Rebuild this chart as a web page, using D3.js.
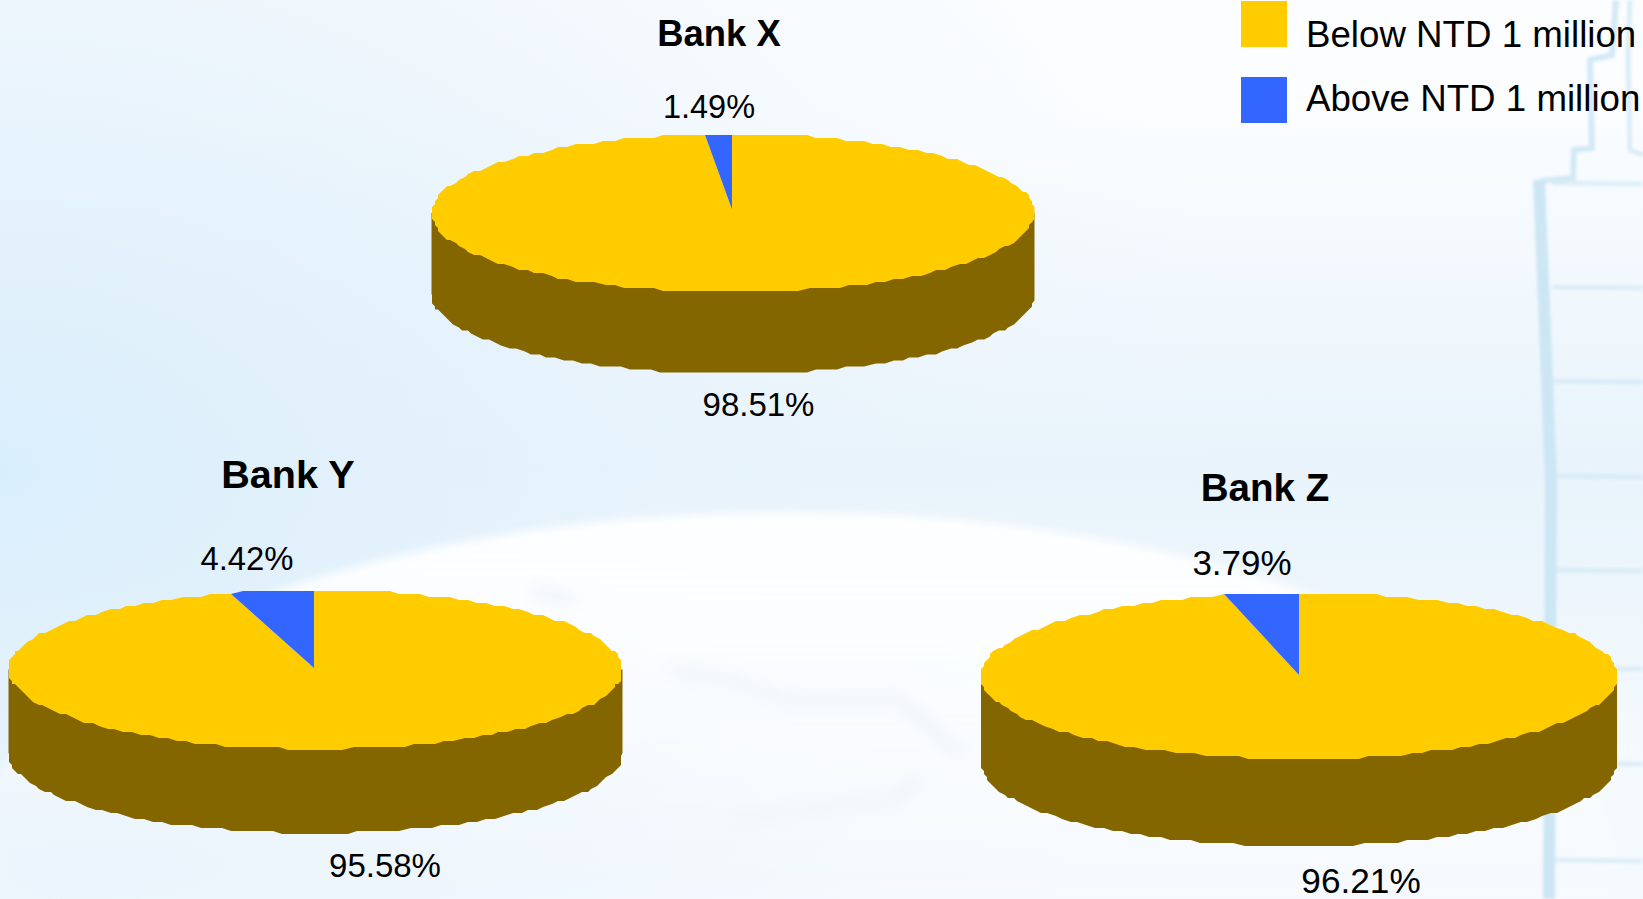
<!DOCTYPE html>
<html>
<head>
<meta charset="utf-8">
<script src="https://cdn.jsdelivr.net/npm/d3@7"></script>
<style>
html, body { margin: 0; padding: 0; background: #fbfdff; overflow: hidden; }
svg { display: block; font-family: "Liberation Sans", Arial, sans-serif; fill: #000; }
</style>
</head>
<body>
<svg id="chart" width="1643" height="899"></svg>
<script>
// Deposit split per bank, in percent
const banks = ["Bank X", "Bank Y", "Bank Z"];
const belowMillion = [98.51, 95.58, 96.21];
const aboveMillion = [1.49, 4.42, 3.79];
const seriesNames = ["Below NTD 1 million", "Above NTD 1 million"];
const seriesColors = ["#ffcc00", "#3366ff"];
const sideColor = ["#836600"];

// Placement of each disc and its captions; hub is where the slices meet
const discs = [
  { cx: 733, cy: 213, rx: 301.5, ry: 79, depth: 81.5, hubX: 732, hubY: 209.5 },
  { cx: 315.5, cy: 669.5, rx: 307, ry: 79.5, depth: 84, hubX: 314, hubY: 668 },
  { cx: 1299, cy: 676, rx: 318, ry: 83, depth: 87, hubX: 1299, hubY: 675 }
];
const titleLayout = [
  { x: 719, y: 46, size: 36.4 },
  { x: 288, y: 488, size: 39.6 },
  { x: 1265, y: 501, size: 38.6 }
];
const aboveLabelLayout = [
  { x: 709, y: 118, size: 32.5 },
  { x: 247, y: 570, size: 32.8 },
  { x: 1242, y: 575, size: 35 }
];
const belowLabelLayout = [
  { x: 758.5, y: 415.5, size: 33 },
  { x: 385, y: 876.5, size: 33 },
  { x: 1361, y: 892.5, size: 35.2 }
];

const svg = d3.select("#chart");
const defs = svg.append("defs");

// Soft wash behind the chart
const wash = defs.append("radialGradient").attr("id", "wash")
  .attr("gradientUnits", "userSpaceOnUse")
  .attr("cx", 0).attr("cy", 0).attr("r", 1)
  .attr("gradientTransform", "translate(0 470) scale(1250 900)");
wash.append("stop").attr("offset", 0).attr("stop-color", "#d9eefc").attr("stop-opacity", 1);
wash.append("stop").attr("offset", 0.5).attr("stop-color", "#e6f2fb").attr("stop-opacity", 0.7);
wash.append("stop").attr("offset", 1).attr("stop-color", "#eef6fc").attr("stop-opacity", 0);

const band = defs.append("linearGradient").attr("id", "band")
  .attr("x1", 0).attr("y1", 0).attr("x2", 0).attr("y2", 1);
band.append("stop").attr("offset", 0.12).attr("stop-color", "#e6f2fb").attr("stop-opacity", 0);
band.append("stop").attr("offset", 0.52).attr("stop-color", "#e6f2fb").attr("stop-opacity", 0.9);
band.append("stop").attr("offset", 0.85).attr("stop-color", "#e6f2fb").attr("stop-opacity", 0.3);

const dome = defs.append("linearGradient").attr("id", "dome")
  .attr("x1", 0).attr("y1", 0).attr("x2", 0).attr("y2", 1);
dome.append("stop").attr("offset", 0).attr("stop-color", "#ffffff").attr("stop-opacity", 0.95);
dome.append("stop").attr("offset", 0.3).attr("stop-color", "#fbfdff").attr("stop-opacity", 0.85);
dome.append("stop").attr("offset", 0.55).attr("stop-color", "#f6fafe").attr("stop-opacity", 0.5);
dome.append("stop").attr("offset", 1).attr("stop-color", "#fbfdff").attr("stop-opacity", 0.6);

// Pale tint in the lower left, fading out toward the centre
const lowerTint = defs.append("radialGradient").attr("id", "lowerTint")
  .attr("gradientUnits", "userSpaceOnUse")
  .attr("cx", 0).attr("cy", 0).attr("r", 1)
  .attr("gradientTransform", "translate(120 860) scale(760 300)");
lowerTint.append("stop").attr("offset", 0).attr("stop-color", "#e6f2fb").attr("stop-opacity", 0.55);
lowerTint.append("stop").attr("offset", 1).attr("stop-color", "#e6f2fb").attr("stop-opacity", 0);

defs.append("filter").attr("id", "soft").attr("x", "-5%").attr("y", "-5%").attr("width", "110%").attr("height", "110%")
  .append("feGaussianBlur").attr("stdDeviation", 4);
defs.append("filter").attr("id", "haze").attr("x", "-30%").attr("y", "-30%").attr("width", "160%").attr("height", "160%")
  .append("feGaussianBlur").attr("stdDeviation", 7);
defs.append("filter").attr("id", "softLine").attr("x", "-20%").attr("y", "-20%").attr("width", "140%").attr("height", "140%")
  .append("feGaussianBlur").attr("stdDeviation", 1.8);

const backdrop = svg.append("g").attr("class", "backdrop");
backdrop.append("rect").attr("width", 1643).attr("height", 899).attr("fill", "#fbfdff");
backdrop.append("rect").attr("width", 1643).attr("height", 899).attr("fill", "url(#band)");
backdrop.append("rect").attr("width", 1643).attr("height", 899).attr("fill", "url(#wash)");
backdrop.append("ellipse")
  .attr("cx", 790).attr("cy", 880).attr("rx", 830).attr("ry", 368)
  .attr("fill", "url(#dome)").attr("filter", "url(#soft)");
backdrop.append("rect").attr("width", 1643).attr("height", 899).attr("fill", "url(#lowerTint)");

// Pale tower outline on the right edge
const tower = backdrop.append("g").attr("filter", "url(#softLine)")
  .attr("fill", "none").attr("stroke", "#cde6f4").attr("stroke-width", 6);
tower.append("path").attr("stroke-width", 12).attr("d", "M1539 180 L1551 480 L1549 899");
tower.append("path").attr("stroke-opacity", 0.85).attr("d", "M1540 181 L1573 178 L1574 150 L1592 148 L1590 60 L1612 55 L1616 0");
tower.append("path").attr("stroke-width", 5).attr("stroke-opacity", 0.7).attr("d", "M1630 0 L1628 55 L1630 150 L1643 155");
[183, 287, 381, 476, 570, 668, 763, 860].forEach(y => {
  tower.append("path").attr("stroke-width", 5).attr("stroke-opacity", 0.6)
    .attr("d", `M1552 ${y} L1643 ${y + 1}`);
});

// Faint smudges inside the dome
const smudge = backdrop.append("g").attr("filter", "url(#haze)")
  .attr("fill", "none").attr("stroke", "#f1f6fb").attr("stroke-width", 14);
smudge.append("path").attr("d", "M670 670 L730 680 L790 700 L900 700 L960 755");
smudge.append("path").attr("d", "M530 590 L575 600");
smudge.append("path").attr("d", "M730 820 L800 810 L890 800 L920 780");

// Rim outlines are snapped to a coarse grid so the edge stays faceted
const snapX = 3, snapY = 3, facet = 2 * Math.PI / 180;
const pie = d3.pie().sort(null).startAngle(0).endAngle(2 * Math.PI);

function rimAngles(a0, a1) {
  const n = Math.max(1, Math.ceil((a1 - a0) / facet));
  return d3.range(n + 1).map(i => a0 + (a1 - a0) * i / n);
}

banks.forEach((bank, i) => {
  const d = discs[i];
  const sx = d3.scaleLinear().domain([-1, 1]).range([d.cx - d.rx, d.cx + d.rx]);
  const sy = d3.scaleLinear().domain([-1, 1]).range([d.cy + d.ry, d.cy - d.ry]);
  const clampX = x => Math.min(Math.max(x, sx(-1)), sx(1));
  const px = a => clampX(Math.round(sx(Math.sin(a)) / snapX) * snapX);
  const py = a => Math.round(sy(Math.cos(a)) / snapY) * snapY;
  const outline = d3.line();
  const g = svg.append("g").attr("class", "disc").attr("data-bank", bank);

  // Side wall: the front half of the rim, extruded downward
  const front = rimAngles(Math.PI / 2, 3 * Math.PI / 2);
  const wall = [
    [sx(1), d.cy],
    [sx(1), d.cy + d.depth],
    ...front.map(a => [px(a), py(a) + d.depth]),
    [sx(-1), d.cy + d.depth],
    [sx(-1), d.cy]
  ];
  g.append("path").attr("d", outline(wall) + "Z").attr("fill", sideColor[0]);

  // Top face slices, clockwise from twelve o'clock
  g.selectAll("path.slice")
    .data(pie([belowMillion[i], aboveMillion[i]]))
    .join("path")
    .attr("class", "slice")
    .attr("fill", (s, k) => seriesColors[k])
    .attr("d", s => {
      const rim = rimAngles(s.startAngle, s.endAngle).map(a => [px(a), py(a)]);
      // The seam at twelve o'clock runs straight up from the hub
      if (s.startAngle < 1e-6) rim[0][0] = d.hubX;
      if (s.endAngle > 2 * Math.PI - 1e-6) rim[rim.length - 1][0] = d.hubX;
      return outline([[d.hubX, d.hubY], ...rim]) + "Z";
    });

  // Captions
  const t = titleLayout[i];
  svg.append("text").attr("x", t.x).attr("y", t.y).attr("text-anchor", "middle")
    .attr("font-size", t.size).attr("font-weight", "bold").text(bank);
  const a = aboveLabelLayout[i];
  svg.append("text").attr("x", a.x).attr("y", a.y).attr("text-anchor", "middle")
    .attr("font-size", a.size).text(aboveMillion[i].toFixed(2) + "%");
  const b = belowLabelLayout[i];
  svg.append("text").attr("x", b.x).attr("y", b.y).attr("text-anchor", "middle")
    .attr("font-size", b.size).text(belowMillion[i].toFixed(2) + "%");
});

// Legend
const legendRows = d3.scalePoint().domain(seriesNames).range([1, 77]);
const legend = svg.append("g").attr("class", "legend");
seriesNames.forEach((name, k) => {
  legend.append("rect").attr("x", 1241).attr("y", legendRows(name))
    .attr("width", 46).attr("height", 46).attr("fill", seriesColors[k]);
  legend.append("text").attr("x", 1306).attr("y", legendRows(name) + (k === 0 ? 46 : 34))
    .attr("font-size", 36.7).text(name);
});
</script>
</body>
</html>
